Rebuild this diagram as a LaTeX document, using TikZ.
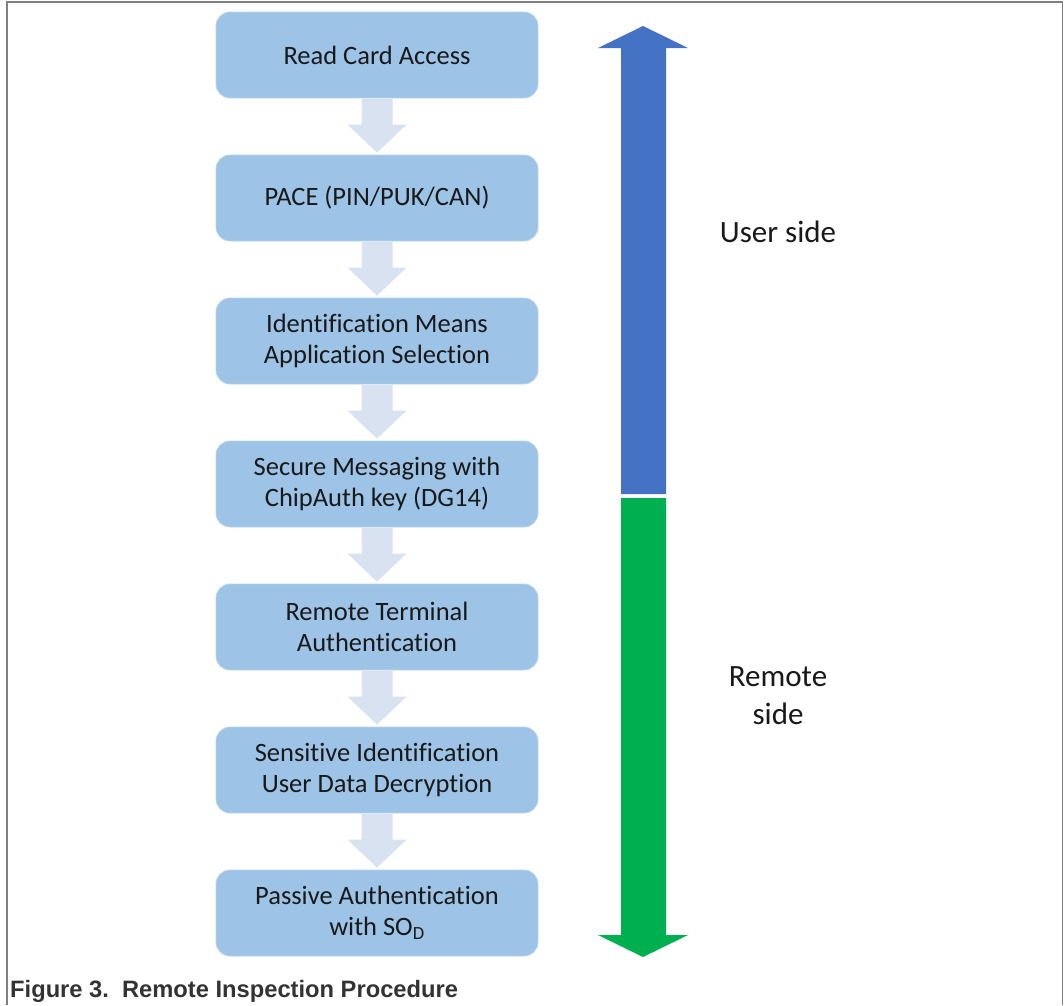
\documentclass[tikz,border=0pt]{standalone}
\usepackage{fontspec}
\setmainfont{Carlito}[Ligatures=CommonOff]
\newfontfamily\capfont{Liberation Sans}
\usetikzlibrary{calc}
\definecolor{boxblue}{HTML}{9DC3E6}
\definecolor{flowgrey}{HTML}{D9E2F1}
\definecolor{upblue}{HTML}{4472C4}
\definecolor{downgreen}{HTML}{00B050}
\definecolor{framegrey}{HTML}{7F7F7F}
\definecolor{captext}{HTML}{333333}
\tikzset{
  stepbox/.style={fill=boxblue, draw=boxblue!70!white, line width=0.8pt, rounded corners=14pt,
    minimum width=322pt, minimum height=86pt, align=center, inner sep=0pt,
    font=\fontsize{26.5}{31}\selectfont, text=black!90},
  flowarrow/.style={fill=flowgrey},
  sidelabel/.style={font=\fontsize{31}{38}\selectfont, align=center, text=black!90},
  frame/.style={draw=framegrey, line width=1.3pt}
}
\begin{document}
\begin{tikzpicture}[x=1pt,y=-1pt]
\useasboundingbox (0,0) rectangle (1064,1005);
\fill[white] (0,0) rectangle (1064,1005);
\draw[frame] (7,1005) -- (7,2) -- (1062.5,2) -- (1062.5,1005);

\node[stepbox] (b1) at (377,55) {Read Card Access};
\node[stepbox] (b2) at (377,198) {PACE (PIN/PUK/CAN)};
\node[stepbox] (b3) at (377,341) {Identification Means\\Application Selection};
\node[stepbox] (b4) at (377,484) {Secure Messaging with\\ChipAuth key (DG14)};
\node[stepbox] (b5) at (377,627) {Remote Terminal\\Authentication};
\node[stepbox] (b6) at (377,770) {Sensitive Identification\\User Data Decryption};
\node[stepbox] (b7) at (377,913) {Passive Authentication\\with SO\textsubscript{D}};

\foreach \a/\b in {b1/b2,b2/b3,b3/b4,b4/b5,b5/b6,b6/b7}{
  \fill[flowarrow] ([xshift=-15.5pt,yshift=-0.5pt]\a.south) -- ([xshift=-15.5pt,yshift=30pt]\b.north)
    -- ([xshift=-29.5pt,yshift=30pt]\b.north) -- ([yshift=2pt]\b.north)
    -- ([xshift=29.5pt,yshift=30pt]\b.north) -- ([xshift=15.5pt,yshift=30pt]\b.north)
    -- ([xshift=15.5pt,yshift=-0.5pt]\a.south) -- cycle;
}

% big double arrow
\fill[upblue] (643,26) -- (688,48) -- (666,48) -- (666,494) -- (621,494) -- (621,48) -- (598,48) -- cycle;
\fill[downgreen] (621,498) -- (666,498) -- (666,935) -- (688,935) -- (643,957) -- (598,935) -- (621,935) -- cycle;

\node[sidelabel] (user) at (778,232) {User side};
\node[sidelabel] (remote) at (778,696) {Remote\\side};

\node[anchor=west, font=\capfont\bfseries\fontsize{23.7}{28}\selectfont, text=captext, inner sep=0pt] (cap) at (10,991) {Figure 3.\ \ Remote Inspection Procedure};
\end{tikzpicture}
\end{document}
